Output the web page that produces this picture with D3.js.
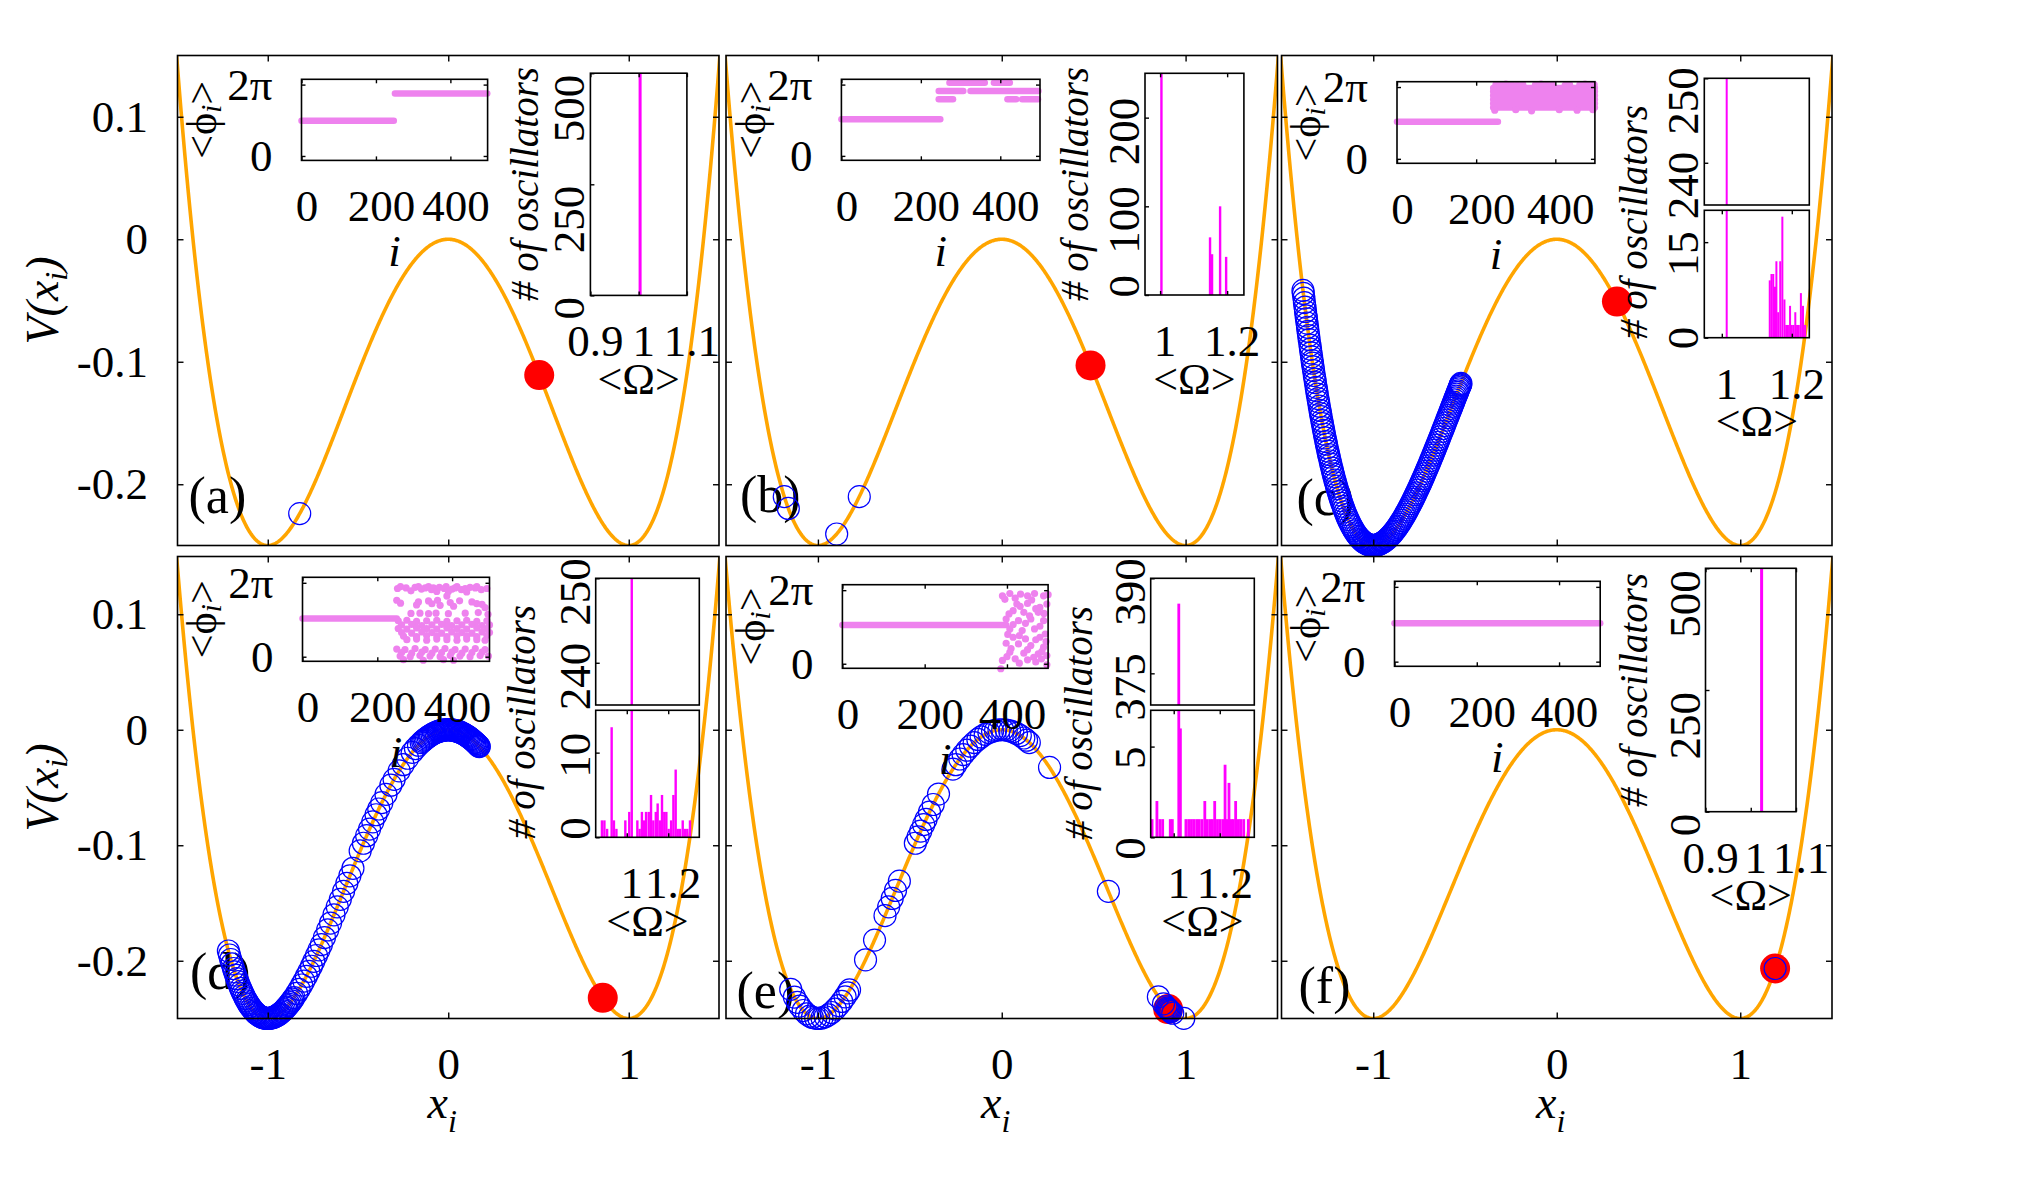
<!DOCTYPE html>
<html>
<head>
<meta charset="utf-8">
<script src="https://cdn.jsdelivr.net/npm/d3@7/dist/d3.min.js"></script>
<style>
  body { margin: 0; background: #fff; }
  svg, svg text { font-family: "Liberation Serif", "Times New Roman", Times, "DejaVu Serif", serif !important; }
  svg text { fill: #000; }
</style>
</head>
<body>
<svg id="chart" width="2017" height="1190" font-family="Liberation Serif, Times New Roman, serif"></svg>
<script>
// ---------- values ----------
const xTicks = [-1, 0, 1]
const vTicks = [0.1, 0, -0.1, -0.2]
const panelNames = ["(a)", "(b)", "(c)", "(d)", "(e)", "(f)"]

// position x_i of the red (filled) oscillator in each panel
const redX = [0.504, 0.483, 0.328, 0.856, 0.905, 1.19]

// positions x_i of the open (blue) oscillators
const circlesA = [-0.823]
const circlesB = [-1.183, -1.161, -0.898, -0.775]
const circlesC = [-1.383, -1.378, -1.372, -1.366, -1.361, -1.355, -1.349, -1.342, -1.336, -1.331, -1.325, -1.318,
  -1.311, -1.305, -1.298, -1.290, -1.284, -1.277, -1.270, -1.262, -1.255, -1.247, -1.240, -1.231, -1.222, -1.214,
  -1.205, -1.196, -1.186, -1.176, -1.165, -1.154, -1.142, -1.130, -1.117, -1.104, -1.090, -1.077, -1.063, -1.050,
  -1.038, -1.025, -1.012, -1.000, -0.988, -0.975, -0.962, -0.948, -0.935, -0.921, -0.906, -0.892, -0.878, -0.865,
  -0.852, -0.838, -0.825, -0.812, -0.800, -0.788, -0.776, -0.765, -0.752, -0.741, -0.730, -0.718, -0.706, -0.694,
  -0.682, -0.671, -0.660, -0.648, -0.636, -0.624, -0.612, -0.600, -0.590, -0.580, -0.571, -0.562, -0.553, -0.545,
  -0.538, -0.531, -0.526, -0.522, -1.381, -1.375, -1.369, -1.364, -1.358, -1.352, -1.345, -1.339, -1.333, -1.328,
  -1.321, -1.315, -1.308, -1.301, -1.294, -1.287, -1.280, -1.273, -1.266, -1.258, -1.251, -1.243, -1.235, -1.226,
  -1.218, -1.209, -1.200, -1.191, -1.181, -1.171, -1.160, -1.148, -1.136, -1.123, -1.110, -1.097, -1.083, -1.070,
  -1.056, -1.044, -1.031, -1.018, -1.006, -0.994, -0.981, -0.968, -0.955, -0.941, -0.928, -0.913, -0.899, -0.885,
  -0.871, -0.858, -0.845, -0.831, -0.818, -0.806, -0.794, -0.782, -0.770, -0.758, -0.746, -0.735, -0.724, -0.712,
  -0.700, -0.688, -0.676, -0.665, -0.654, -0.642, -0.630, -0.618, -0.606, -0.595, -0.585, -0.575, -0.566, -0.557,
  -0.549, -0.541, -0.534, -0.528, -0.524]
const circlesD = [-1.218, -1.205, -1.19, -1.178, -1.165, -1.15, -1.138, -1.124, -1.11, -1.097, -1.083, -1.07,
  -1.058, -1.045, -1.03, -1.018, -1.005, -0.99, -0.976, -0.962, -0.95, -0.937, -0.922, -0.908, -0.895, -0.882,
  -0.868, -0.855, -0.84, -0.826, -0.812, -0.8, -0.786, -0.772, -0.758, -0.745, -0.73, -0.716, -0.703, -0.686,
  -0.668, -0.652, -0.633, -0.615, -0.598, -0.58, -0.562, -0.545, -0.528, -0.488, -0.47, -0.452, -0.436, -0.418,
  -0.4, -0.385, -0.368, -0.345, -0.318, -0.3, -0.272, -0.25, -0.225, -0.2, -0.182, -0.165, -0.15, -0.135, -0.12,
  -0.105, -0.09, -0.075, -0.06, -0.048, -0.035, -0.022, -0.01, 0.002, 0.015, 0.028, 0.04, 0.052, 0.065, 0.078,
  0.09, 0.102, 0.114, 0.125, 0.136, 0.146, 0.155, 0.163, 0.17, -0.142, -0.128, -0.112, -0.098, -0.082, -0.068,
  -0.054, -0.041, -0.028, -0.016, -0.004, 0.008, 0.021, 0.034, 0.046, 0.058, 0.071, 0.084, 0.096, 0.108, 0.119,
  0.13, 0.141, 0.15, 0.159, 0.166, 0.172, -1.212, -1.198, -1.184, -1.171, -1.158, -1.144, -1.131, -1.117, -1.104,
  -1.09, -1.077, -1.064, -1.051, -1.037, -1.024, -1.011, -0.997, -0.983, -0.969, -0.956, -0.943, -0.93, -0.915,
  -0.9, -0.888, -0.875, -0.861]
const circlesE = [-1.148, -1.128, -1.112, -1.099, -1.08, -1.062, -1.045, -1.03, -1.012, -0.995, -0.978, -0.96,
  -0.942, -0.925, -0.905, -0.888, -0.87, -0.852, -0.838, -0.828, -0.741, -0.692, -0.635, -0.615, -0.596, -0.578,
  -0.557, -0.47, -0.455, -0.441, -0.425, -0.412, -0.393, -0.373, -0.344, -0.266, -0.25, -0.228, -0.21, -0.19,
  -0.17, -0.15, -0.13, -0.112, -0.09, -0.07, -0.05, -0.034, -0.015, 0.005, 0.025, 0.043, 0.06, 0.08, 0.101, 0.12,
  0.135, 0.15, 0.26, 0.58, 0.852, 0.88, 0.893, 0.9, 0.905, 0.91, 0.915, 0.92, 0.93, 0.99]
const circlesF = [1.19]

// phase insets: runs of equal phase [i from, i to, <phi_i>] and single points [i, <phi_i>]
const indexTicks = [0, 200, 400]
const runsA = [[0, 248, 3.1], [251, 499, 5.49]]
const runsB = [[0, 249, 3.22], [272, 361, 6.45], [384, 424, 6.45], [245, 307, 5.72], [325, 496, 5.72],
  [245, 281, 5.0], [418, 440, 5.0], [455, 495, 5.0]]
const runsC = [[0, 255, 3.25], [243, 500, 4.5], [243, 500, 4.85], [243, 500, 5.2], [243, 500, 5.55],
  [243, 500, 5.9], [243, 500, 6.2]]
const runsD = [[0, 252, 3.24]]
const runsE = [[0, 398, 3.3]]
const runsF = [[0, 500, 3.22]]

const dotsC = [[250, 6.5], [262, 6.45], [275, 6.55], [290, 6.5], [304, 6.45], [318, 6.5], [350, 6.5], [364, 6.55],
  [378, 6.45], [392, 6.5], [425, 6.45], [436, 6.5], [462, 6.5], [475, 6.55], [488, 6.45], [498, 6.5],
  [247, 4.25], [300, 4.3], [340, 4.2], [410, 4.3], [455, 4.25], [495, 4.3]]
const dotsD = [[254, 5.8], [262, 5.95], [277, 5.85], [290, 5.6], [301, 5.9], [310, 5.95], [318, 5.75], [328, 5.85],
  [337, 5.95], [345, 5.7], [350, 5.85], [359, 5.55], [366, 5.9], [379, 5.8], [384, 5.95], [390, 5.55], [400, 5.75],
  [408, 5.85], [413, 5.95], [425, 5.7], [435, 5.8], [439, 5.5], [448, 5.9], [462, 5.85], [466, 5.95], [478, 5.7],
  [493, 5.8], [252, 4.8], [262, 4.55], [305, 4.4], [310, 4.66], [337, 4.74], [346, 4.5], [361, 4.8], [368, 4.37],
  [386, 5.15], [395, 4.6], [404, 4.29], [420, 4.75], [453, 4.66], [466, 4.51], [480, 4.45], [488, 4.17],
  [290, 3.68], [314, 3.7], [337, 3.66], [357, 3.7], [390, 3.66], [435, 3.7], [470, 3.75], [496, 3.6],
  [256, 3.05], [279, 3.1], [305, 3.0], [332, 3.05], [359, 3.1], [386, 3.0], [413, 3.05], [439, 3.1], [466, 3.0],
  [493, 3.05], [265, 2.7], [292, 2.75], [319, 2.65], [346, 2.7], [372, 2.75], [399, 2.65], [426, 2.7], [453, 2.75],
  [480, 2.65], [500, 2.7], [256, 2.4], [279, 2.35], [305, 2.45], [332, 2.4], [359, 2.35], [386, 2.45], [413, 2.4],
  [439, 2.35], [466, 2.45], [493, 2.4], [265, 2.05], [292, 2.0], [319, 2.1], [346, 2.05], [372, 2.0], [399, 2.1],
  [426, 2.05], [453, 2.0], [480, 2.1], [500, 2.05], [270, 1.75], [305, 1.7], [332, 1.8], [359, 1.75], [386, 1.7],
  [413, 1.8], [439, 1.75], [466, 1.7], [493, 1.8], [279, 1.45], [305, 1.5], [332, 1.4], [359, 1.5], [386, 1.45],
  [413, 1.4], [439, 1.5], [466, 1.45], [488, 1.4], [252, 0.65], [274, 0.6], [301, 0.7], [328, 0.6], [355, 0.65],
  [381, 0.7], [408, 0.6], [435, 0.65], [462, 0.7], [488, 0.6], [265, 0.35], [292, 0.3], [319, 0.4], [346, 0.3],
  [372, 0.35], [399, 0.4], [426, 0.3], [453, 0.35], [480, 0.4], [261, 0.05], [288, 0.0], [314, 0.1], [341, 0.05],
  [368, 0.0], [395, 0.1], [421, 0.05], [448, 0.0], [475, 0.1], [497, 0.05], [270, -0.25], [323, -0.3],
  [377, -0.25], [404, -0.3]]
const dotsE = [[389, 5.8], [407, 6.0], [433, 5.94], [450, 5.8], [467, 6.0], [489, 5.8], [497, 5.1], [424, 5.1],
  [450, 5.15], [480, 4.81], [415, 4.53], [441, 4.39], [476, 4.39], [398, 3.82], [428, 3.68], [458, 3.82],
  [489, 3.68], [407, 2.97], [437, 2.83], [467, 2.97], [493, 2.54], [415, 2.26], [445, 2.12], [480, 2.26],
  [398, 1.75], [428, 1.69], [458, 1.55], [489, 1.41], [407, 0.98], [441, 0.9], [476, 0.84], [497, 0.7],
  [389, 0.28], [420, 0.42], [450, 0.33], [484, 0.42], [385, -0.43], [497, -0.09], [395, 5.5], [420, 5.6],
  [460, 5.45], [500, 5.9], [432, 4.9], [470, 4.7], [405, 4.25], [455, 4.1], [490, 4.3], [415, 3.35], [445, 3.45],
  [480, 3.2], [402, 2.5], [430, 2.4], [470, 2.05], [495, 1.9], [410, 1.3], [450, 1.2], [485, 1.05], [400, 0.6],
  [465, 0.55], [430, 0.05], [470, 0.15]]

// frequency histograms [<Omega>, # of oscillators]
const barsA = [[1.003, 500]]
const barsB = [[1.004, 251], [1.149, 65], [1.155, 46], [1.179, 100], [1.197, 43]]
const barsC = [[1.014, 252], [1.137, 9], [1.142, 10], [1.147, 10], [1.152, 8], [1.156, 12], [1.161, 4],
  [1.167, 12], [1.173, 19], [1.179, 6], [1.184, 2], [1.189, 2], [1.195, 5], [1.200, 2], [1.205, 2], [1.210, 4],
  [1.215, 2], [1.220, 2], [1.226, 7], [1.232, 5], [1.238, 2]]
const barsD = [[0.880, 2], [0.892, 2], [0.905, 1], [0.927, 13], [0.938, 2], [0.950, 1], [0.993, 2], [1.012, 3],
  [1.024, 252], [1.051, 2], [1.062, 1], [1.073, 3], [1.083, 2], [1.093, 3], [1.106, 3], [1.117, 5], [1.128, 2],
  [1.140, 3], [1.149, 4], [1.161, 2], [1.170, 5], [1.181, 3], [1.191, 3], [1.202, 1], [1.214, 2], [1.225, 5],
  [1.236, 8], [1.246, 1], [1.257, 1], [1.270, 2], [1.281, 1], [1.292, 1], [1.305, 2]]
const barsE = [[0.906, 1], [0.927, 2], [0.940, 1], [0.952, 1], [0.985, 1], [0.994, 1], [1.022, 386], [1.029, 6],
  [1.053, 1], [1.065, 1], [1.077, 1], [1.088, 1], [1.100, 1], [1.111, 1], [1.123, 1], [1.135, 2], [1.146, 1],
  [1.158, 1], [1.168, 1], [1.178, 2], [1.190, 1], [1.201, 1], [1.213, 1], [1.223, 4], [1.231, 1], [1.240, 3],
  [1.250, 1], [1.259, 1], [1.269, 2], [1.281, 1], [1.291, 1], [1.304, 1], [1.324, 1]]
const barsF = [[1.024, 500]]

const omegaDomainA = [0.9, 1.1], omegaTicksA = [0.9, 1, 1.1]
const omegaDomainB = [0.955, 1.25], omegaTicksB = [1, 1.2]
const omegaDomainC = [0.95, 1.25], omegaTicksC = [1, 1.2]
const omegaDomainD = [0.85, 1.35], omegaTicksD = [1, 1.2]
const omegaDomainE = [0.9, 1.35], omegaTicksE = [1, 1.2]
const omegaDomainF = [0.9, 1.1], omegaTicksF = [0.9, 1, 1.1]

// count axes, upper box first for the broken axes
const countsA = [[0, 500]], countTicksA = [[0, 250, 500]]
const countsB = [[0, 250]], countTicksB = [[0, 100, 200]]
const countsC = [[235, 250], [0, 20]], countTicksC = [[240, 250], [0, 15]]
const countsD = [[235, 250], [0, 15]], countTicksD = [[240, 250], [0, 10]]
const countsE = [[370, 390], [0, 7]], countTicksE = [[375, 390], [0, 5]]
const countsF = [[0, 500]], countTicksF = [[0, 250, 500]]

// double-well potential drawn in every panel
const potential = x => x ** 4 / 4 - x ** 2 / 2

// ---------- layout ----------
const colX = [[177.5, 719], [726, 1277.5], [1281.5, 1832]]
const rowY = [[55.5, 545.5], [556.5, 1018.5]]
const xDomain = [-1.5, 1.5]
const vDomain = [-0.25, 0.15]
const indexDomain = [0, 500]
const phaseDomain = [-0.39, 6.75]
const sampleXs = d3.range(-1.56, 1.5601, 0.004)

const colors = {
  curve: "#ffa500",
  red: "#ff0000",
  blue: "#0000ff",
  phase: "#ee82ee",
  bar: "#ff00ff"
}

const panels = [
  {circles: circlesA, runs: runsA, dots: [], phaseBox: [301.5, 79.3, 487.6, 160.4], label: [11, 495],
    bars: barsA, omega: omegaDomainA, omegaTicks: omegaTicksA, counts: countsA, countTicks: countTicksA,
    boxes: [[590.4, 73.2, 686.9, 295.4]], shift: [1.5], countLabel: [538, 184], barWidth: 3},
  {circles: circlesB, runs: runsB, dots: [], phaseBox: [841.4, 79.3, 1040, 160.3], label: [14, 494],
    bars: barsB, omega: omegaDomainB, omegaTicks: omegaTicksB, counts: countsB, countTicks: countTicksB,
    boxes: [[1145, 73.3, 1243.9, 295]], shift: [-20], countLabel: [1088, 184], barWidth: 2.4},
  {circles: circlesC, runs: runsC, dots: dotsC, phaseBox: [1397, 81.7, 1594.9, 163.3], label: [15, 497],
    bars: barsC, omega: omegaDomainC, omegaTicks: omegaTicksC, counts: countsC, countTicks: countTicksC,
    boxes: [[1704.3, 78.3, 1809.3, 205], [1704.3, 210.3, 1809.3, 337.7]], shift: [-11, -11],
    countLabel: [1647, 222], barWidth: 2},
  {circles: circlesD, runs: runsD, dots: dotsD, phaseBox: [302.5, 577.3, 489.5, 661.3], label: [12.5, 971],
    bars: barsD, omega: omegaDomainD, omegaTicks: omegaTicksD, counts: countsD, countTicks: countTicksD,
    boxes: [[595.7, 578.3, 699.3, 705], [595.7, 710.3, 699.3, 837.3]], shift: [-20, -20],
    countLabel: [535, 722], barWidth: 2.4},
  {circles: circlesE, runs: runsE, dots: dotsE, phaseBox: [842.4, 584.7, 1048.1, 668.3], label: [10.5, 990],
    bars: barsE, omega: omegaDomainE, omegaTicks: omegaTicksE, counts: countsE, countTicks: countTicksE,
    boxes: [[1150.7, 578.3, 1254.3, 705], [1150.7, 710.3, 1254.3, 837.3]], shift: [-20, 0],
    countLabel: [1092, 723], barWidth: 2.8},
  {circles: circlesF, runs: runsF, dots: [], phaseBox: [1394.5, 581.3, 1600.2, 666.3], label: [17, 985],
    bars: barsF, omega: omegaDomainF, omegaTicks: omegaTicksF, counts: countsF, countTicks: countTicksF,
    boxes: [[1705.5, 568.3, 1796, 811.7]], shift: [2], countLabel: [1647, 690], barWidth: 3}
]

const svg = d3.select("#chart")
const defs = svg.append("defs")

function tickMarks (sel, axis) {
  sel.call(axis)
  sel.select(".domain").remove()
  sel.selectAll(".tick text").remove()
  sel.selectAll(".tick line").attr("stroke", "#000").attr("stroke-width", 1.4)
}

function tickLabels (sel, axis, size) {
  sel.call(axis)
  sel.select(".domain").remove()
  sel.selectAll(".tick line").remove()
  sel.attr("font-size", size).attr("font-family", null)
}

function frame (g, x0, y0, x1, y1, width) {
  g.append("rect")
    .attr("x", x0).attr("y", y0)
    .attr("width", x1 - x0).attr("height", y1 - y0)
    .attr("fill", "none")
    .attr("stroke", "#000")
    .attr("stroke-width", width)
}

function drawMain (g, p, k) {
  const col = k % 3
  const row = Math.floor(k / 3)
  const [x0, x1] = colX[col]
  const [y0, y1] = rowY[row]
  const x = d3.scaleLinear().domain(xDomain).range([x0, x1])
  const y = d3.scaleLinear().domain(vDomain).range([y1, y0])

  const clipId = "panel-clip-" + k
  defs.append("clipPath").attr("id", clipId)
    .append("rect")
    .attr("x", x0).attr("y", y0)
    .attr("width", x1 - x0).attr("height", y1 - y0)

  g.append("path")
    .datum(sampleXs)
    .attr("clip-path", `url(#${clipId})`)
    .attr("d", d3.line().x(d => x(d)).y(d => y(potential(d))))
    .attr("fill", "none")
    .attr("stroke", colors.curve)
    .attr("stroke-width", 3.6)

  // panel letter sits under the oscillators, as in the figure
  g.append("text")
    .attr("x", x0 + p.label[0])
    .attr("y", p.label[1])
    .attr("dominant-baseline", "central")
    .attr("font-size", 52)
    .text(panelNames[k])

  g.append("circle")
    .attr("cx", x(redX[k]))
    .attr("cy", y(potential(redX[k])))
    .attr("r", 15)
    .attr("fill", colors.red)

  g.append("g").selectAll("circle")
    .data(p.circles)
    .join("circle")
    .attr("cx", d => x(d))
    .attr("cy", d => y(potential(d)))
    .attr("r", 11)
    .attr("fill", "none")
    .attr("stroke", colors.blue)
    .attr("stroke-width", 1.2)

  frame(g, x0, y0, x1, y1, 1.6)
  tickMarks(g.append("g").attr("transform", `translate(0,${y1})`), d3.axisBottom(x).tickValues(xTicks).tickSize(-6))
  tickMarks(g.append("g").attr("transform", `translate(0,${y0})`), d3.axisTop(x).tickValues(xTicks).tickSize(-6))
  tickMarks(g.append("g").attr("transform", `translate(${x0},0)`), d3.axisLeft(y).tickValues(vTicks).tickSize(-6))
  tickMarks(g.append("g").attr("transform", `translate(${x1},0)`), d3.axisRight(y).tickValues(vTicks).tickSize(-6))

  if (col === 0) {
    tickLabels(g.append("g").attr("transform", `translate(${x0},0)`),
      d3.axisLeft(y).tickValues(vTicks).tickSize(0).tickPadding(x0 - 148).tickFormat(d => String(d)), 45)
    const vt = g.append("text")
      .attr("transform", `translate(58,${(y0 + y1) / 2}) rotate(-90)`)
      .attr("text-anchor", "middle")
      .attr("font-size", 46)
      .attr("font-style", "italic")
    vt.append("tspan").text("V(x")
    vt.append("tspan").attr("dy", 9).attr("font-size", 32).text("i")
    vt.append("tspan").attr("dy", -9).text(")")
  }
  if (row === 1) {
    tickLabels(g.append("g").attr("transform", `translate(0,${y1})`),
      d3.axisBottom(x).tickValues(xTicks).tickSize(0).tickPadding(29).tickFormat(d => String(d)), 45)
    const xt = g.append("text")
      .attr("x", (x0 + x1) / 2 - 6)
      .attr("y", 1118)
      .attr("text-anchor", "middle")
      .attr("font-size", 46)
      .attr("font-style", "italic")
    xt.append("tspan").text("x")
    xt.append("tspan").attr("dy", 14).attr("font-size", 32).text("i")
  }

  return x0
}

function drawPhase (g, p, panelLeft) {
  const [bx0, by0, bx1, by1] = p.phaseBox
  const xi = d3.scaleLinear().domain(indexDomain).range([bx0, bx1])
  const yp = d3.scaleLinear().domain(phaseDomain).range([by1, by0])

  g.append("g").selectAll("line")
    .data(p.runs)
    .join("line")
    .attr("x1", d => xi(d[0]))
    .attr("x2", d => xi(d[1]))
    .attr("y1", d => yp(d[2]))
    .attr("y2", d => yp(d[2]))
    .attr("stroke", colors.phase)
    .attr("stroke-width", 6.5)
    .attr("stroke-linecap", "round")

  g.append("g").selectAll("circle")
    .data(p.dots)
    .join("circle")
    .attr("cx", d => xi(d[0]))
    .attr("cy", d => yp(d[1]))
    .attr("r", 3.6)
    .attr("fill", colors.phase)

  frame(g, bx0, by0, bx1, by1, 1.6)
  const phiTicks = [0, 2 * Math.PI]
  tickMarks(g.append("g").attr("transform", `translate(0,${by1})`), d3.axisBottom(xi).tickValues(indexTicks).tickSize(-4))
  tickMarks(g.append("g").attr("transform", `translate(0,${by0})`), d3.axisTop(xi).tickValues(indexTicks).tickSize(-4))
  tickMarks(g.append("g").attr("transform", `translate(${bx0},0)`), d3.axisLeft(yp).tickValues(phiTicks).tickSize(-4))
  tickMarks(g.append("g").attr("transform", `translate(${bx1},0)`), d3.axisRight(yp).tickValues(phiTicks).tickSize(-4))

  const bl = g.append("g").attr("transform", `translate(0,${by1})`)
  tickLabels(bl, d3.axisBottom(xi).tickValues(indexTicks).tickSize(0).tickPadding(29).tickFormat(d => String(d)), 45)
  bl.selectAll(".tick text").attr("dx", 5)
  tickLabels(g.append("g").attr("transform", `translate(${bx0},0)`),
    d3.axisLeft(yp).tickValues(phiTicks).tickSize(0).tickPadding(29).tickFormat(d => d ? "2π" : "0"), 45)

  const pl = g.append("text")
    .attr("transform", `translate(${panelLeft + 24.5},${(by0 + by1) / 2}) rotate(-90)`)
    .attr("text-anchor", "middle")
    .attr("dominant-baseline", "central")
    .attr("font-size", 42)
  pl.append("tspan").text("<ϕ")
  pl.append("tspan").attr("dy", 8).attr("font-size", 30).attr("font-style", "italic").text("i")
  pl.append("tspan").attr("dy", -8).text(">")

  g.append("text")
    .attr("x", (bx0 + bx1) / 2)
    .attr("y", by1 + 91)
    .attr("text-anchor", "middle")
    .attr("dominant-baseline", "central")
    .attr("font-size", 45)
    .attr("font-style", "italic")
    .text("i")
}

function drawHist (g, p) {
  const first = p.boxes[0]
  const last = p.boxes[p.boxes.length - 1]
  const xo = d3.scaleLinear().domain(p.omega).range([first[0], first[2]])

  p.boxes.forEach((box, j) => {
    const [hx0, hy0, hx1, hy1] = box
    const dom = p.counts[j]
    const yc = d3.scaleLinear().domain(dom).range([hy1, hy0])

    g.append("g").selectAll("rect")
      .data(p.bars.filter(d => d[1] > dom[0]))
      .join("rect")
      .attr("x", d => xo(d[0]) - p.barWidth / 2)
      .attr("width", p.barWidth)
      .attr("y", d => yc(Math.min(d[1], dom[1])))
      .attr("height", d => hy1 - yc(Math.min(d[1], dom[1])))
      .attr("fill", colors.bar)

    frame(g, hx0, hy0, hx1, hy1, 1.6)
    tickMarks(g.append("g").attr("transform", `translate(${hx0},0)`),
      d3.axisLeft(yc).tickValues(p.countTicks[j]).tickSize(-4))

    g.append("g").selectAll("text")
      .data(p.countTicks[j])
      .join("text")
      .attr("transform", d => `translate(${hx0 - 6},${yc(d) + p.shift[j]}) rotate(-90)`)
      .attr("text-anchor", "end")
      .attr("font-size", 45)
      .text(d => String(d))
  })

  tickMarks(g.append("g").attr("transform", `translate(0,${last[3]})`),
    d3.axisBottom(xo).tickValues(p.omegaTicks).tickSize(-4))
  tickMarks(g.append("g").attr("transform", `translate(0,${last[1]})`),
    d3.axisTop(xo).tickValues(p.omegaTicks).tickSize(-4))

  g.append("g").selectAll("text")
    .data(p.omegaTicks)
    .join("text")
    .attr("x", d => xo(d) + 5)
    .attr("y", last[3] + 46)
    .attr("text-anchor", "middle")
    .attr("dominant-baseline", "central")
    .attr("font-size", 45)
    .text(d => String(d))

  g.append("text")
    .attr("x", (last[0] + last[2]) / 2)
    .attr("y", last[3] + 84)
    .attr("text-anchor", "middle")
    .attr("dominant-baseline", "central")
    .attr("font-size", 44)
    .text("<Ω>")

  g.append("text")
    .attr("transform", `translate(${p.countLabel[0]},${p.countLabel[1]}) rotate(-90)`)
    .attr("text-anchor", "middle")
    .attr("font-size", 39)
    .attr("font-style", "italic")
    .text("# of oscillators")
}

panels.forEach((p, k) => {
  const g = svg.append("g").attr("class", "panel")
  const left = drawMain(g, p, k)
  drawPhase(g.append("g").attr("class", "phase-inset"), p, left)
  drawHist(g.append("g").attr("class", "hist-inset"), p)
})
</script>
</body>
</html>
